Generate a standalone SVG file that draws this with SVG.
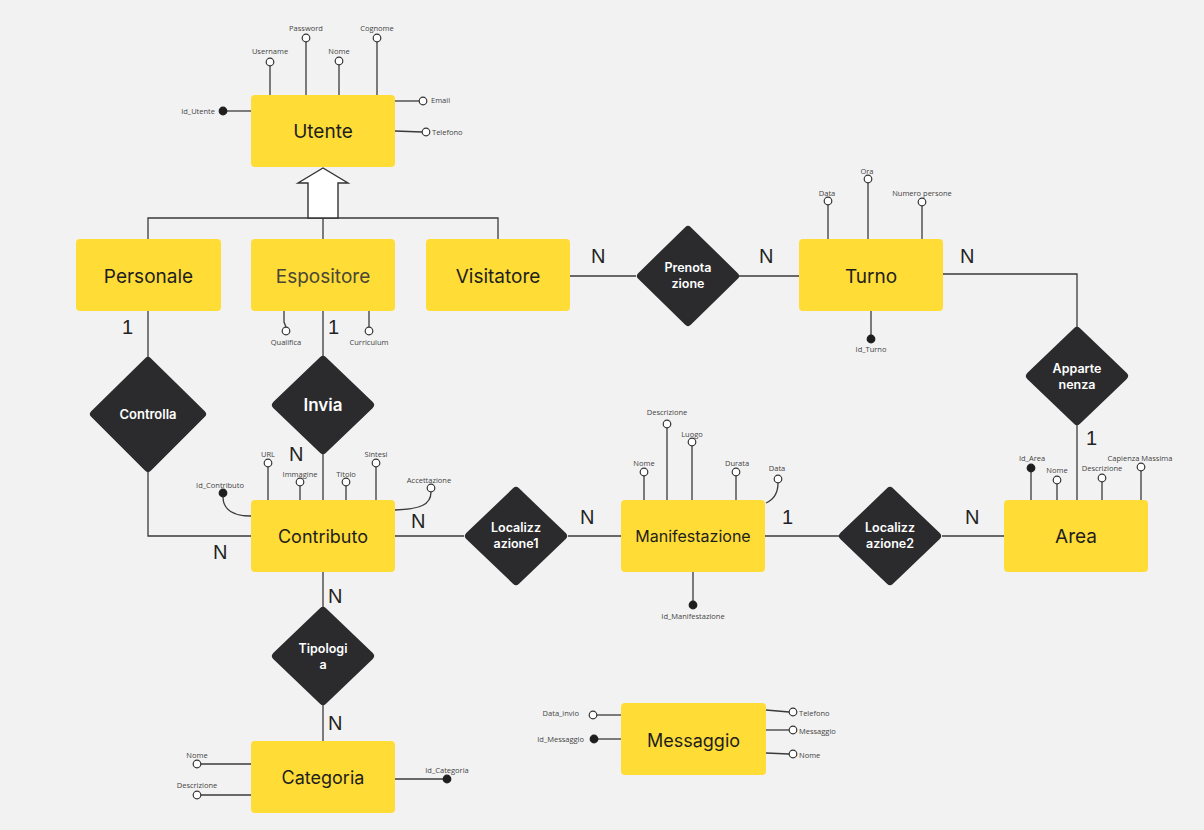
<svg xmlns="http://www.w3.org/2000/svg" width="1204" height="830" viewBox="0 0 1204 830">
<defs>
<style>
.bg{fill:#f2f2f2}
.ent rect{fill:#ffdc36;rx:4px}
.ent text{font-family:Inter,"Liberation Sans",sans-serif;fill:#1e1e1e;text-anchor:middle;dominant-baseline:central}
.rel polygon{fill:#2b2b2e;stroke:#2b2b2e;stroke-width:8;stroke-linejoin:round}
.rel text{font-family:Inter,"Liberation Sans",sans-serif;fill:#ffffff;font-weight:600;text-anchor:middle;font-size:12.5px}
.ln{fill:none;stroke:#3a3a3a;stroke-width:1.3}
.card{font-family:"Liberation Sans",Arial,sans-serif;font-size:20px;fill:#222}
.att{font-family:"Open Sans","Liberation Sans",sans-serif;font-size:7.5px;fill:#444}
.oc{fill:#ffffff;stroke:#333;stroke-width:1.2}
.fc{fill:#1e1e1e;stroke:#1e1e1e;stroke-width:1.2}
</style>
</defs>
<rect class="bg" x="0" y="0" width="1204" height="830"/>

<g id="connectors">
<!-- inheritance -->
<polyline class="ln" points="148,239 148,218 498,218 498,239"/>
<line class="ln" x1="323" y1="218" x2="323" y2="239"/>
<polygon points="308,218 308,183 298,183 323,168 348,183 338,183 338,218" fill="#ffffff" stroke="#333" stroke-width="1.4"/>
<!-- relationships -->
<line class="ln" x1="148" y1="311" x2="148" y2="357"/>
<polyline class="ln" points="148,472 148,536 251,536"/>
<line class="ln" x1="323" y1="311" x2="323" y2="356"/>
<line class="ln" x1="323" y1="454" x2="323" y2="500"/>
<line class="ln" x1="395" y1="536" x2="464" y2="536"/>
<line class="ln" x1="568" y1="536" x2="621" y2="536"/>
<line class="ln" x1="765" y1="536" x2="839" y2="536"/>
<line class="ln" x1="942" y1="536" x2="1004" y2="536"/>
<line class="ln" x1="1077" y1="500" x2="1077" y2="425"/>
<polyline class="ln" points="1077,327 1077,274 943,274"/>
<line class="ln" x1="570" y1="276" x2="636" y2="276"/>
<line class="ln" x1="739" y1="276" x2="799" y2="276"/>
<line class="ln" x1="323" y1="572" x2="323" y2="607"/>
<line class="ln" x1="323" y1="705" x2="323" y2="741"/>
<!-- cardinalities -->
<text class="card" x="122" y="334">1</text>
<text class="card" x="328" y="334">1</text>
<text class="card" x="289" y="461">N</text>
<text class="card" x="213" y="559">N</text>
<text class="card" x="411" y="528">N</text>
<text class="card" x="580" y="524">N</text>
<text class="card" x="782" y="524">1</text>
<text class="card" x="965" y="524">N</text>
<text class="card" x="1086" y="445">1</text>
<text class="card" x="960" y="263">N</text>
<text class="card" x="591" y="263">N</text>
<text class="card" x="759" y="263">N</text>
<text class="card" x="328" y="603">N</text>
<text class="card" x="328" y="730">N</text>
</g>

<!-- Utente -->
<g id="utente">
<line class="ln" x1="270" y1="66" x2="270" y2="95"/>
<line class="ln" x1="306" y1="42" x2="306" y2="95"/>
<line class="ln" x1="339" y1="65" x2="339" y2="95"/>
<line class="ln" x1="377" y1="42" x2="377" y2="95"/>
<line class="ln" x1="223" y1="111" x2="251" y2="111"/>
<line class="ln" x1="395" y1="101" x2="419" y2="101"/>
<line class="ln" x1="395" y1="131" x2="422" y2="132"/>
<circle class="oc" cx="270" cy="62" r="3.8"/>
<circle class="oc" cx="306" cy="38" r="3.8"/>
<circle class="oc" cx="339" cy="61" r="3.8"/>
<circle class="oc" cx="377" cy="38" r="3.8"/>
<circle class="fc" cx="223" cy="111" r="3.8"/>
<circle class="oc" cx="423" cy="101" r="3.8"/>
<circle class="oc" cx="426" cy="132" r="3.8"/>
<text class="att" x="270" y="54" text-anchor="middle">Username</text>
<text class="att" x="306" y="31" text-anchor="middle">Password</text>
<text class="att" x="339" y="54" text-anchor="middle">Nome</text>
<text class="att" x="377" y="31" text-anchor="middle">Cognome</text>
<text class="att" x="215" y="114" text-anchor="end">Id_Utente</text>
<text class="att" x="431" y="103">Email</text>
<text class="att" x="432" y="135">Telefono</text>
<g class="ent"><rect x="251" y="95" width="144" height="72"/><text x="323" y="131" style="font-size:19px">Utente</text></g>
</g>

<g id="personale" class="ent"><rect x="76" y="239" width="145" height="72"/><text x="148.5" y="276" style="font-size:19px">Personale</text></g>

<g id="espositore">
<path class="ln" d="M284,311 L284,322 286,327"/>
<line class="ln" x1="369" y1="311" x2="369" y2="327"/>
<circle class="oc" cx="286" cy="331" r="3.8"/>
<circle class="oc" cx="369" cy="331" r="3.8"/>
<text class="att" x="286" y="345" text-anchor="middle">Qualifica</text>
<text class="att" x="369" y="345" text-anchor="middle">Curriculum</text>
<g class="ent"><rect x="251" y="239" width="144" height="72"/><text x="323" y="276" style="font-size:19px;fill:#4a4637">Espositore</text></g>
</g>

<g id="visitatore" class="ent"><rect x="426" y="239" width="144" height="72"/><text x="498" y="276" style="font-size:19px">Visitatore</text></g>

<g id="turno">
<line class="ln" x1="828" y1="205" x2="828" y2="239"/>
<line class="ln" x1="868" y1="183" x2="868" y2="239"/>
<line class="ln" x1="922" y1="206" x2="922" y2="239"/>
<line class="ln" x1="871" y1="311" x2="871" y2="339"/>
<circle class="oc" cx="828" cy="201" r="3.8"/>
<circle class="oc" cx="868" cy="179" r="3.8"/>
<circle class="oc" cx="922" cy="202" r="3.8"/>
<circle class="fc" cx="871" cy="339" r="3.8"/>
<text class="att" x="827" y="196" text-anchor="middle">Data</text>
<text class="att" x="867" y="174" text-anchor="middle">Ora</text>
<text class="att" x="922" y="196" text-anchor="middle">Numero persone</text>
<text class="att" x="871" y="352" text-anchor="middle">Id_Turno</text>
<g class="ent"><rect x="799" y="239" width="144" height="72"/><text x="871" y="276" style="font-size:19px">Turno</text></g>
</g>

<g id="contributo">
<path class="ln" d="M223,497 C223,510 234,516 251,516"/>
<line class="ln" x1="268" y1="467" x2="268" y2="500"/>
<line class="ln" x1="300" y1="486" x2="300" y2="500"/>
<line class="ln" x1="346" y1="486" x2="346" y2="500"/>
<line class="ln" x1="376" y1="467" x2="376" y2="500"/>
<path class="ln" d="M395,510 C420,509 431,505 431,492"/>
<circle class="fc" cx="223" cy="493" r="3.8"/>
<circle class="oc" cx="268" cy="463" r="3.8"/>
<circle class="oc" cx="300" cy="482" r="3.8"/>
<circle class="oc" cx="346" cy="482" r="3.8"/>
<circle class="oc" cx="376" cy="463" r="3.8"/>
<circle class="oc" cx="431" cy="488" r="3.8"/>
<text class="att" x="220" y="488" text-anchor="middle">Id_Contributo</text>
<text class="att" x="268" y="457" text-anchor="middle">URL</text>
<text class="att" x="300" y="477" text-anchor="middle">Immagine</text>
<text class="att" x="346" y="477" text-anchor="middle">Titolo</text>
<text class="att" x="376" y="457" text-anchor="middle">Sintesi</text>
<text class="att" x="429" y="483" text-anchor="middle">Accettazione</text>
<g class="ent"><rect x="251" y="500" width="144" height="72"/><text x="323" y="536" style="font-size:18px">Contributo</text></g>
</g>

<g id="manifestazione">
<line class="ln" x1="644" y1="476" x2="644" y2="500"/>
<line class="ln" x1="667" y1="428" x2="667" y2="500"/>
<line class="ln" x1="692" y1="446" x2="692" y2="500"/>
<line class="ln" x1="736" y1="476" x2="736" y2="500"/>
<path class="ln" d="M766,503 C775,499 778,492 778,483"/>
<line class="ln" x1="693" y1="572" x2="693" y2="605"/>
<circle class="oc" cx="644" cy="472" r="3.8"/>
<circle class="oc" cx="667" cy="424" r="3.8"/>
<circle class="oc" cx="692" cy="442" r="3.8"/>
<circle class="oc" cx="736" cy="472" r="3.8"/>
<circle class="oc" cx="778" cy="479" r="3.8"/>
<circle class="fc" cx="693" cy="605" r="3.8"/>
<text class="att" x="644" y="466" text-anchor="middle">Nome</text>
<text class="att" x="667" y="415" text-anchor="middle">Descrizione</text>
<text class="att" x="692" y="437" text-anchor="middle">Luogo</text>
<text class="att" x="737" y="466" text-anchor="middle">Durata</text>
<text class="att" x="777" y="471" text-anchor="middle">Data</text>
<text class="att" x="693" y="619" text-anchor="middle">Id_Manifestazione</text>
<g class="ent"><rect x="621" y="500" width="144" height="72"/><text x="693" y="536" style="font-size:16px">Manifestazione</text></g>
</g>

<g id="area">
<line class="ln" x1="1031" y1="468" x2="1031" y2="500"/>
<line class="ln" x1="1057" y1="484" x2="1057" y2="500"/>
<line class="ln" x1="1102" y1="482" x2="1102" y2="500"/>
<line class="ln" x1="1141" y1="471" x2="1141" y2="500"/>
<circle class="fc" cx="1031" cy="468" r="3.8"/>
<circle class="oc" cx="1057" cy="480" r="3.8"/>
<circle class="oc" cx="1102" cy="478" r="3.8"/>
<circle class="oc" cx="1141" cy="467" r="3.8"/>
<text class="att" x="1032" y="461" text-anchor="middle">Id_Area</text>
<text class="att" x="1057" y="473" text-anchor="middle">Nome</text>
<text class="att" x="1102" y="471" text-anchor="middle">Descrizione</text>
<text class="att" x="1140" y="461" text-anchor="middle">Capienza Massima</text>
<g class="ent"><rect x="1004" y="500" width="144" height="72"/><text x="1076" y="536" style="font-size:19px">Area</text></g>
</g>

<g id="categoria">
<line class="ln" x1="201" y1="764" x2="251" y2="764"/>
<line class="ln" x1="201" y1="795" x2="251" y2="795"/>
<line class="ln" x1="395" y1="779" x2="447" y2="779"/>
<circle class="oc" cx="197" cy="764" r="3.8"/>
<circle class="oc" cx="197" cy="795" r="3.8"/>
<circle class="fc" cx="447" cy="779" r="3.8"/>
<text class="att" x="197" y="758" text-anchor="middle">Nome</text>
<text class="att" x="197" y="788" text-anchor="middle">Descrizione</text>
<text class="att" x="447" y="773" text-anchor="middle">Id_Categoria</text>
<g class="ent"><rect x="251" y="741" width="144" height="72"/><text x="323" y="777" style="font-size:18px">Categoria</text></g>
</g>

<g id="messaggio">
<line class="ln" x1="597" y1="715" x2="621" y2="715"/>
<line class="ln" x1="594" y1="739" x2="621" y2="739"/>
<line class="ln" x1="766" y1="710" x2="789" y2="712"/>
<line class="ln" x1="766" y1="730" x2="789" y2="730"/>
<line class="ln" x1="766" y1="753" x2="789" y2="754"/>
<circle class="oc" cx="593" cy="715" r="3.8"/>
<circle class="fc" cx="594" cy="739" r="3.8"/>
<circle class="oc" cx="793" cy="712" r="3.8"/>
<circle class="oc" cx="793" cy="730" r="3.8"/>
<circle class="oc" cx="793" cy="754" r="3.8"/>
<text class="att" x="579" y="716" text-anchor="end">Data_invio</text>
<text class="att" x="584" y="742" text-anchor="end">Id_Messaggio</text>
<text class="att" x="799" y="716">Telefono</text>
<text class="att" x="799" y="734">Messaggio</text>
<text class="att" x="799" y="758">Nome</text>
<g class="ent"><rect x="621" y="703" width="145" height="72"/><text x="693.5" y="740" style="font-size:18px">Messaggio</text></g>
</g>

<!-- relationships -->
<g id="prenotazione" class="rel"><polygon points="688,230 735,276 688,322 641,276"/><text x="688" y="272">Prenota</text><text x="688" y="288">zione</text></g>
<g id="controlla" class="rel"><polygon points="148,361 202,414 148,468 94,414"/><text x="148" y="419" style="font-size:13px">Controlla</text></g>
<g id="invia" class="rel"><polygon points="323,360 370,405 323,450 276,405"/><text x="323" y="411" style="font-size:17px">Invia</text></g>
<g id="tipologia" class="rel"><polygon points="323,611 370,656 323,701 276,656"/><text x="323" y="653">Tipologi</text><text x="323" y="669">a</text></g>
<g id="localizzazione1" class="rel"><polygon points="516,491 563,536 516,581 469,536"/><text x="516" y="532">Localizz</text><text x="516" y="548">azione1</text></g>
<g id="localizzazione2" class="rel"><polygon points="890,491 937,536 890,581 843,536"/><text x="890" y="532">Localizz</text><text x="890" y="548">azione2</text></g>
<g id="appartenenza" class="rel"><polygon points="1077,331 1124,376 1077,421 1030,376"/><text x="1077" y="373">Apparte</text><text x="1077" y="389">nenza</text></g>
</svg>
